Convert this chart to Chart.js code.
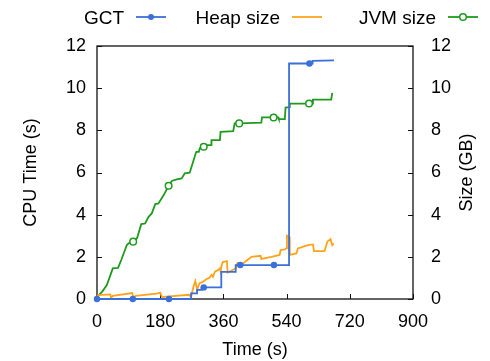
<!DOCTYPE html>
<html><head><meta charset="utf-8">
<script src="https://cdn.jsdelivr.net/npm/chart.js@4/dist/chart.umd.min.js"></script>
<style>html,body{margin:0;padding:0;background:#fff}canvas{display:block}</style>
</head><body>
<canvas id="c" width="490" height="361"></canvas>
<script>
// ---- data ----
const xTicks = [0, 180, 360, 540, 720, 900];
const yTicks = [0, 2, 4, 6, 8, 10, 12];
const seriesNames = ['GCT', 'Heap size', 'JVM size'];

const gctT = [0, 102, 205, 268, 268, 285, 285, 298, 298, 304, 354, 354, 395, 395, 408, 504, 547, 547, 605, 614, 614, 675];
const gctV = [0, 0, 0, 0, 0.27, 0.27, 0.43, 0.43, 0.55, 0.55, 0.55, 1.29, 1.29, 1.61, 1.61, 1.61, 1.61, 11.17, 11.17, 11.17, 11.3, 11.32];
const gctMarkT = [0, 102, 205, 304, 408, 504, 605];

const heapT = [0, 38, 40, 45, 100, 104, 110, 170, 180, 186, 190, 262, 268, 275, 280, 285, 292, 300, 312, 320, 326, 330, 336, 345, 350, 352, 355, 358, 370, 372, 395, 400, 410, 428, 440, 466, 468, 497, 520, 523, 535, 539, 541, 547, 549, 568, 572, 601, 615, 618, 648, 656, 665, 670, 674];
const heapV = [0.18, 0.22, 0.05, 0.15, 0.28, 0.05, 0.15, 0.25, 0.3, 0.05, 0.1, 0.2, 0.1, 0.6, 0.85, 0.45, 0.75, 0.8, 0.95, 1.0, 1.15, 1.05, 1.3, 1.38, 1.45, 1.3, 1.6, 1.75, 1.8, 1.25, 1.45, 1.7, 1.6, 1.85, 2.0, 2.05, 1.9, 2.0, 2.09, 2.32, 2.35, 2.4, 3.0, 2.95, 2.09, 2.16, 2.4, 2.56, 2.59, 2.27, 2.27, 2.72, 2.84, 2.56, 2.64];

const jvmT = [0, 15, 28, 45, 60, 69, 85, 90, 103, 114, 126, 137, 147, 156, 166, 175, 190, 204, 213, 227, 241, 250, 264, 281, 283, 290, 293, 304, 314, 325, 326, 350, 352, 388, 392, 405, 468, 470, 503, 516, 518, 535, 537, 547, 549, 604, 613, 615, 667, 670];
const jvmV = [0.1, 0.35, 0.66, 1.45, 1.48, 1.85, 2.56, 2.64, 2.72, 2.88, 3.55, 3.58, 3.9, 4.06, 4.5, 4.53, 4.93, 5.37, 5.6, 5.67, 5.72, 5.96, 5.99, 6.9, 6.98, 6.98, 7.15, 7.22, 7.3, 7.3, 7.54, 7.54, 7.93, 7.96, 8.33, 8.33, 8.36, 8.61, 8.61, 8.61, 8.53, 8.53, 9.08, 9.1, 9.27, 9.27, 9.27, 9.46, 9.46, 9.78];
const jvmMarkT = [103, 204, 304, 405, 503, 604];

// ---- styles ----
const BLUE = '#3b6fd9', ORANGE = '#ffa31a', GREEN = '#1f9a1f';
const FONT = {family: '"Liberation Sans", Arial, sans-serif', size: 18};
const LEGEND_FONT_SIZE = 19;

const zip = (t, v) => t.map((x, i) => ({x, y: v[i]}));

const legendPlugin = {
  id: 'customLegend',
  afterDraw(chart) {
    const ctx = chart.ctx;
    const items = [
      {ds: 0, textRight: 124, x1: 136, x2: 166, marker: 'filled'},
      {ds: 1, textRight: 280, x1: 292, x2: 322, marker: null},
      {ds: 2, textRight: 436, x1: 448, x2: 478, marker: 'open'}
    ];
    ctx.save();
    ctx.font = LEGEND_FONT_SIZE + 'px ' + FONT.family;
    ctx.textAlign = 'right';
    ctx.textBaseline = 'alphabetic';
    items.forEach(it => {
      const ds = chart.data.datasets[it.ds];
      const y = 17;
      ctx.fillStyle = '#000';
      ctx.fillText(ds.label, it.textRight, 24);
      ctx.strokeStyle = ds.borderColor;
      ctx.lineWidth = 1.8;
      ctx.beginPath(); ctx.moveTo(it.x1, y); ctx.lineTo(it.x2, y); ctx.stroke();
      const mx = (it.x1 + it.x2) / 2;
      if (it.marker === 'filled') {
        ctx.fillStyle = ds.borderColor;
        ctx.beginPath(); ctx.arc(mx, y, 3, 0, Math.PI * 2); ctx.fill();
      } else if (it.marker === 'open') {
        ctx.fillStyle = '#fff';
        ctx.lineWidth = 1.5;
        ctx.beginPath(); ctx.arc(mx, y, 3.3, 0, Math.PI * 2); ctx.fill(); ctx.stroke();
      }
    });
    ctx.restore();
  }
};

const framePlugin = {
  id: 'frame',
  beforeDatasetsDraw(chart) {
    const {ctx, chartArea: a, scales} = chart;
    ctx.save();
    ctx.strokeStyle = '#111';
    ctx.lineWidth = 1.3;
    ctx.strokeRect(a.left, a.top, a.right - a.left, a.bottom - a.top);
    ctx.lineWidth = 1;
    ctx.beginPath();
    const tl = 5;
    xTicks.forEach(v => {
      const px = Math.round(scales.x.getPixelForValue(v)) + 0.5;
      ctx.moveTo(px, a.bottom); ctx.lineTo(px, a.bottom - tl);
    });
    yTicks.forEach(v => {
      const py = Math.round(scales.y.getPixelForValue(v)) + 0.5;
      ctx.moveTo(a.left, py); ctx.lineTo(a.left + tl, py);
      const py2 = Math.round(scales.y2.getPixelForValue(v)) + 0.5;
      ctx.moveTo(a.right, py2); ctx.lineTo(a.right - tl, py2);
    });
    ctx.stroke();
    // right axis title (rotated bottom-to-top)
    ctx.font = FONT.size + 'px ' + FONT.family;
    ctx.fillStyle = '#000';
    ctx.textAlign = 'center';
    ctx.textBaseline = 'middle';
    ctx.translate(467, (a.top + a.bottom) / 2);
    ctx.rotate(-Math.PI / 2);
    ctx.fillText('Size (GB)', 0, 0);
    ctx.restore();
  }
};

new Chart(document.getElementById('c'), {
  type: 'line',
  data: {
    datasets: [
      {label: seriesNames[0], data: zip(gctT, gctV), borderColor: BLUE, backgroundColor: BLUE, borderWidth: 1.8,
       pointRadius: c => (gctMarkT.includes(c.raw.x) && gctT.indexOf(c.raw.x) === c.index) ? 3.2 : 0,
       pointBorderWidth: 0, pointBackgroundColor: BLUE, yAxisID: 'y', order: 1, tension: 0, clip: false},
      {label: seriesNames[1], data: zip(heapT, heapV), borderColor: ORANGE, backgroundColor: ORANGE, borderWidth: 1.8,
       pointRadius: 0, yAxisID: 'y2', order: 2, tension: 0, clip: false},
      {label: seriesNames[2], data: zip(jvmT, jvmV), borderColor: GREEN, backgroundColor: '#fff', borderWidth: 1.8,
       pointRadius: c => jvmMarkT.includes(c.raw.x) ? 3.3 : 0, pointBorderWidth: 1.5,
       pointBackgroundColor: '#fff', pointBorderColor: GREEN, yAxisID: 'y2', order: 3, tension: 0, clip: false}
    ]
  },
  options: {
    responsive: false,
    devicePixelRatio: 1,
    animation: false,
    events: [],
    layout: {padding: {top: 46, left: 0, right: 0, bottom: 0}},
    plugins: {legend: {display: false}, tooltip: {enabled: false}},
    scales: {
      x: {
        type: 'linear', min: 0, max: 900,
        afterBuildTicks: s => { s.ticks = xTicks.map(v => ({value: v})); },
        afterFit: s => { s.height = 62; },
        grid: {display: false, drawTicks: false}, border: {display: false},
        ticks: {font: FONT, color: '#000', padding: 12, maxRotation: 0, autoSkip: false},
        title: {display: true, text: 'Time (s)', font: FONT, color: '#000', padding: {top: 4, bottom: 0}}
      },
      y: {
        type: 'linear', position: 'left', min: 0, max: 12,
        afterBuildTicks: s => { s.ticks = yTicks.map(v => ({value: v})); },
        afterFit: s => { s.width = 97; },
        grid: {display: false, drawTicks: false}, border: {display: false},
        ticks: {font: FONT, color: '#000', padding: 11, autoSkip: false},
        title: {display: true, text: 'CPU Time (s)', font: FONT, color: '#000', padding: {top: 20, bottom: 0}}
      },
      y2: {
        type: 'linear', position: 'right', min: 0, max: 12,
        afterBuildTicks: s => { s.ticks = yTicks.map(v => ({value: v})); },
        afterFit: s => { s.width = 77; },
        grid: {display: false, drawTicks: false}, border: {display: false},
        ticks: {font: FONT, color: '#000', padding: 18, autoSkip: false}
      }
    }
  },
  plugins: [legendPlugin, framePlugin]
});
</script>
</body></html>
